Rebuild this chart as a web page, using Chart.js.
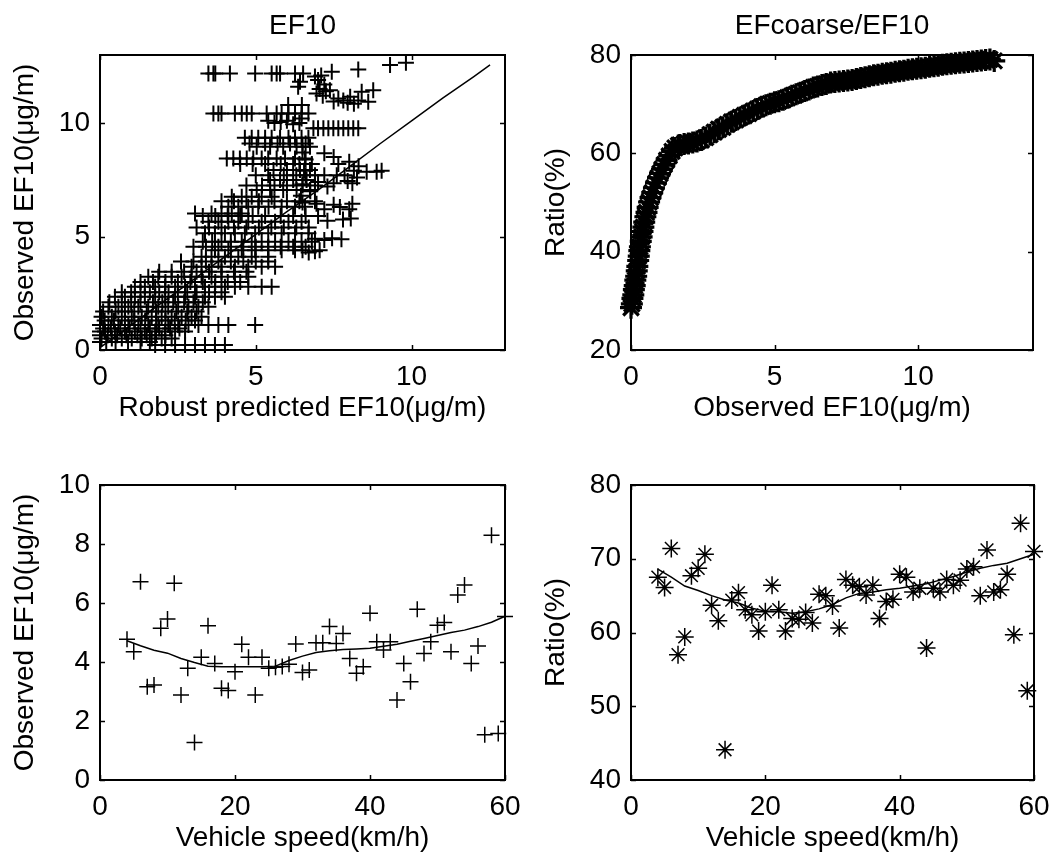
<!DOCTYPE html>
<html>
<head>
<meta charset="utf-8">
<title>EF10 and EFcoarse/EF10</title>
<script src="https://cdn.jsdelivr.net/npm/chart.js@4/dist/chart.umd.min.js"></script>
<style>
  html, body { margin: 0; padding: 0; background: #fff; }
  #page { position: relative; width: 1051px; height: 859px; overflow: hidden; }
  canvas { position: absolute; }
</style>
</head>
<body>
<div id="page">
  <canvas id="ef10-fit" width="525" height="430" style="left:0;top:0"></canvas>
  <canvas id="ratio-ef10" width="526" height="430" style="left:525px;top:0"></canvas>
  <canvas id="ef10-speed" width="525" height="429" style="left:0;top:430px"></canvas>
  <canvas id="ratio-speed" width="526" height="429" style="left:525px;top:430px"></canvas>
</div>
<script>
// ---- top left: observed vs robust predicted EF10 (values come in rows of equal observed EF10)
const observedLevels = [12.19, 10.42, 9.77, 9.35, 9.1, 8.96, 8.44, 8.2, 7.93, 7.7, 7.49, 7.25, 7.05, 6.75, 6.55,
  6.31, 6.02, 5.9, 5.65, 5.4, 5.14, 4.77, 4.55, 4.40, 4.11, 3.9, 3.67, 3.45, 3.23, 3.0, 2.79, 2.55, 2.35,
  2.1, 1.91, 1.7, 1.47, 1.3, 1.10, 0.95, 0.81, 0.65, 0.51, 0.35, 0.22];
const predictedAtLevel = [
  [3.48, 3.64, 3.7, 4.17, 4.98, 5.51, 5.67, 5.78, 6.26, 6.52],
  [3.64, 3.8, 3.9, 4.33, 4.55, 4.71, 4.87, 5.35, 5.67, 5.83, 6.05, 6.26, 6.47, 6.69],
  [6.85, 7.0, 7.17, 7.33, 7.49, 7.65, 7.81, 7.97, 8.13, 8.29],
  [4.65, 4.87, 5.08, 5.3, 5.51, 5.78, 6.05, 6.26, 6.47, 6.69],
  [4.8, 5.3, 5.7, 6.1, 6.6],
  [5.03, 5.46, 5.88, 6.31, 6.5, 6.74],
  [4.07, 4.28, 4.49, 4.71, 4.92, 5.19, 5.4, 5.67, 5.94, 6.26, 6.58],
  [4.5, 4.9, 5.3, 5.8, 6.2, 6.4],
  [5.57, 6.0, 6.42, 6.74],
  [5.0, 5.4, 5.9, 6.3, 6.6, 7.2, 7.6],
  [5.46, 5.78, 6.2, 6.63],
  [4.7, 5.2, 5.6, 6.0, 6.5, 6.9],
  [5.03, 5.46, 5.88, 6.31, 6.74],
  [4.23, 4.55, 4.87, 5.19, 5.51],
  [3.9, 4.3, 4.7, 5.1, 5.6, 6.0, 6.4, 6.9],
  [4.12, 4.44, 4.76, 5.08, 5.41, 5.83, 6.26, 6.58],
  [3.05, 3.58, 3.9, 4.23, 4.55],
  [3.3, 3.7, 4.1, 4.5, 4.9, 5.3, 5.8, 6.2, 6.6, 7.0],
  [3.48, 3.8, 4.12, 4.44, 4.76, 5.19, 5.62, 6.05, 6.47],
  [3.1, 3.5, 3.9, 4.3, 4.7, 5.1, 5.5, 5.9, 6.3, 6.7],
  [3.37, 3.69, 4.01, 4.33, 4.65, 4.98, 5.4, 5.83, 6.26, 6.69],
  [3.3, 3.6, 3.9, 4.2, 4.55, 4.87, 5.19, 5.62, 6.05, 6.47, 6.8],
  [3.0, 3.4, 3.8, 4.2, 4.6, 5.0, 5.4, 5.8, 6.2, 6.6],
  [3.69, 4.12, 4.55, 4.98, 5.4, 5.83, 6.26, 6.5, 7.05],
  [3.26, 3.58, 4.01, 4.44, 4.87, 5.4],
  [2.6, 3.0, 3.4, 3.8, 4.2, 4.6, 5.0, 5.4],
  [2.94, 3.26, 3.58, 3.9, 4.33, 4.76, 5.19, 5.62],
  [1.9, 2.3, 2.7, 3.1, 3.5, 3.9, 4.3, 4.7],
  [1.55, 1.87, 2.3, 2.62, 2.94, 3.26, 3.58, 3.9, 4.33, 4.76],
  [1.3, 1.7, 2.1, 2.5, 2.9, 3.3, 3.7, 4.1, 4.5],
  [1.12, 1.44, 1.77, 2.09, 2.41, 2.73, 3.05, 3.37, 3.69, 4.01, 4.33, 4.76, 5.19, 5.51],
  [0.7, 1.0, 1.3, 1.6, 1.9, 2.2, 2.5, 2.8, 3.1, 3.5, 3.9],
  [0.48, 0.8, 1.12, 1.44, 1.77, 2.09, 2.41, 2.73, 3.05, 3.37, 3.69, 4.01],
  [0.3, 0.7, 1.0, 1.3, 1.7, 2.0, 2.35, 2.7, 3.0, 3.3],
  [0.27, 0.59, 0.91, 1.23, 1.55, 1.87, 2.19, 2.51, 2.84, 3.16, 3.48],
  [0.1, 0.5, 0.8, 1.1, 1.5, 1.8, 2.1, 2.45, 2.8, 3.1],
  [0.05, 0.38, 0.7, 1.02, 1.34, 1.66, 1.98, 2.3, 2.62, 2.94, 3.26],
  [0.15, 0.45, 0.8, 1.1, 1.45, 1.8, 2.1, 2.4, 2.75, 3.05],
  [0, 0.27, 0.59, 0.91, 1.23, 1.55, 1.87, 2.19, 2.51, 2.84, 3.16, 3.48, 3.8, 4.12, 4.98],
  [0.1, 0.35, 0.65, 0.95, 1.3, 1.6, 1.9, 2.25, 2.55],
  [0, 0.16, 0.48, 0.8, 1.12, 1.44, 1.77, 2.09, 2.41, 2.73],
  [0, 0.25, 0.55, 0.85, 1.2, 1.5, 1.8, 2.1],
  [0.05, 0.38, 0.7, 1.02, 1.34, 1.66, 1.98, 2.3],
  [0, 0.2, 0.5, 0.9, 1.3, 1.6],
  [1.77, 2.09, 2.41, 2.73, 3.05, 3.37, 3.69, 4.01]
];
// scattered [predicted, observed] pairs outside the rows
const ef10Scattered = [
  [9.31, 12.56], [9.82, 12.66], [8.29, 12.36], [7.44, 12.26],
  [6.9, 12.05], [7.0, 11.9], [7.1, 12.1], [7.2, 11.7], [7.05, 11.5], [6.95, 11.3], [7.25, 11.4], [7.15, 11.2],
  [6.42, 11.82], [6.36, 11.6],
  [7.38, 11.45], [7.65, 11.08], [7.81, 11.0], [8.03, 11.16], [8.29, 11.0], [8.4, 11.38], [8.61, 10.94],
  [8.77, 11.45], [7.5, 10.95], [7.95, 10.9], [8.15, 10.85],
  [6.04, 10.8], [6.48, 10.8], [6.47, 10.2],
  [5.4, 10.1], [5.6, 10.0], [5.8, 10.05], [6.0, 10.1], [6.2, 9.95], [6.4, 10.0],
  [6.5, 8.7], [6.6, 8.4], [6.8, 8.2], [6.55, 7.9], [6.9, 7.7], [7.0, 7.4], [6.5, 7.3], [6.75, 7.0], [6.45, 6.8],
  [7.2, 8.67], [7.5, 8.5], [7.65, 8.2], [8.0, 8.3], [8.15, 7.9], [8.25, 7.6], [8.1, 7.35], [7.85, 7.7],
  [7.5, 7.35], [7.3, 7.2], [8.3, 8.1], [7.95, 7.45],
  [8.56, 7.86], [8.88, 7.86], [9.04, 7.9],
  [6.5, 6.5], [6.95, 6.45], [7.2, 6.2], [7.5, 6.4], [7.7, 6.3], [8.0, 6.2], [8.1, 6.45], [7.3, 5.7],
  [7.8, 5.75], [8.05, 5.8],
  [6.9, 4.9], [7.2, 4.85], [7.45, 4.92], [7.75, 4.88], [6.7, 4.3], [6.9, 4.35]
];
const ef10FitPredicted = [0, 1, 2, 3, 4, 5, 6, 7, 8, 9, 10, 11, 12, 12.52];
const ef10FitObserved = [0.1, 1.1, 2.1, 3.1, 4.1, 5.1, 6.1, 7.05, 8.07, 9.1, 10.1, 11.1, 12.05, 12.56];

// ---- top right: EFcoarse/EF10 ratio (%) against observed EF10
const bandEf10 = [0.00, 0.03, 0.05, 0.08, 0.10, 0.13, 0.15, 0.18, 0.20, 0.22, 0.25, 0.27, 0.29, 0.31, 0.34,
  0.37, 0.40, 0.43, 0.46, 0.50, 0.54, 0.58, 0.63, 0.68, 0.74, 0.80, 0.87, 0.94, 1.01, 1.08, 1.16, 1.24,
  1.33, 1.43, 1.53, 1.65,
  1.70, 1.85, 2.00, 2.15, 2.30, 2.45, 2.60, 2.75, 2.90, 3.05, 3.20, 3.35, 3.50, 3.65, 3.80, 3.95, 4.10,
  4.25, 4.40, 4.55, 4.70, 4.85, 5.00, 5.15, 5.30, 5.45, 5.60, 5.75, 5.90, 6.05, 6.20, 6.35, 6.50, 6.65,
  6.80, 6.95, 7.10, 7.25, 7.40, 7.55, 7.70, 7.85, 8.00, 8.15, 8.30, 8.45, 8.60, 8.75, 8.90, 9.05, 9.20,
  9.35, 9.50, 9.65, 9.80, 9.95, 10.10, 10.25, 10.40, 10.55, 10.70, 10.85, 11.00, 11.15, 11.30, 11.45,
  11.60, 11.75, 11.90, 12.05, 12.20, 12.35, 12.50, 12.65];
const bandRatio = [28.6, 29.4, 30.5, 31.2, 32.3, 33.1, 34.2, 35.0, 36.1, 37.0, 38.2, 39.1, 40.2, 41.0, 42.1,
  43.0, 44.1, 45.0, 46.0, 47.1, 48.0, 49.0, 50.1, 51.0, 52.0, 53.0, 54.0, 55.0, 55.9, 56.8, 57.7, 58.6,
  59.5, 60.4, 61.1, 61.6,
  61.7, 61.9, 62.0, 62.2, 62.4, 62.7, 63.2, 63.8, 64.3, 64.9, 65.3, 65.9, 66.4, 66.8, 67.3, 67.7, 68.1,
  68.6, 69.0, 69.5, 69.8, 70.1, 70.4, 70.6, 70.9, 71.3, 71.7, 72.0, 72.3, 72.7, 73.0, 73.4, 73.6, 73.9,
  74.1, 74.4, 74.5, 74.6, 74.7, 74.8, 74.9, 75.1, 75.3, 75.5, 75.7, 75.9, 76.0, 76.2, 76.3, 76.4, 76.6,
  76.7, 76.8, 77.0, 77.1, 77.2, 77.3, 77.4, 77.6, 77.7, 77.8, 78.0, 78.1, 78.2, 78.3, 78.4,
  78.5, 78.6, 78.7, 78.8, 78.9, 79.0, 79.1, 78.8];

// ---- bottom row: per vehicle speed (km/h)
const speeds = [4, 5, 6, 7, 8, 9, 10, 11, 12, 13, 14, 15, 16, 17, 18, 19, 20, 21, 22, 23, 24, 25, 26, 27, 28,
  29, 30, 31, 32, 33, 34, 35, 36, 37, 38, 39, 40, 41, 42, 43, 44, 45, 46, 47, 48, 49, 50, 51, 52, 53, 54,
  55, 56, 57, 58, 59, 60];
const ef10BySpeed = [
  4.77, 4.35, 6.72, 3.16, 3.22, 5.14, 5.46, 6.67, 2.88, 3.79,
  1.27, 4.16, 5.23, 3.95, 3.11, 3.03, 3.67, 4.60, 4.16, 2.88,
  4.16, 3.79, 3.82, 3.85, 3.92, 4.61, 3.64, 3.73, 4.65, 4.65,
  5.20, 4.63, 4.97, 4.12, 3.62, 3.84, 5.65, 4.69, 4.41, 4.69,
  2.71, 3.95, 3.33, 5.79, 4.29, 4.69, 5.25, 5.34, 4.35, 6.27,
  6.61, 3.95, 4.54, 1.53, 8.30, 1.58, 5.54];
const ratioBySpeed = [
  67.5, 66.1, 71.4, 57.0, 59.4, 67.7, 68.7, 70.6, 63.7, 61.6,
  44.1, 64.4, 65.4, 63.1, 62.4, 60.2, 62.8, 66.4, 63.1, 60.2,
  61.9, 61.8, 62.7, 61.3, 65.2, 65.0, 63.6, 60.6, 67.2, 66.4,
  66.2, 65.1, 66.4, 61.9, 64.2, 64.5, 67.9, 67.5, 65.5, 66.0,
  57.9, 66.0, 65.5, 67.2, 66.4, 67.1, 68.6, 68.9, 65.0, 71.2,
  65.5, 65.8, 67.9, 59.7, 74.8, 52.1, 71.0];
const fitSpeeds = [4, 6, 8, 10, 12, 14, 16, 18, 20, 22, 24, 26, 28, 30, 32, 34, 36, 38, 40, 42, 44, 46, 48, 50,
  52, 54, 56, 58, 60];
const ef10SpeedFit = [4.72, 4.55, 4.4, 4.3, 4.12, 3.98, 3.86, 3.84, 3.84, 3.84, 3.84, 3.86, 4.05, 4.2, 4.32,
  4.38, 4.42, 4.44, 4.47, 4.53, 4.6, 4.7, 4.8, 4.9, 5.0, 5.08, 5.2, 5.35, 5.55];
const ratioSpeedFit = [68.6, 67.5, 66.3, 65.7, 65.0, 64.4, 64.0, 63.3, 62.9, 62.8, 62.6, 62.8, 63.2, 63.8, 64.7,
  65.3, 65.5, 65.8, 66.0, 66.3, 66.6, 67.1, 67.6, 68.2, 68.7, 69.1, 69.4, 70.0, 70.6];

const FONT = { family: 'Arial, "Liberation Sans", Helvetica, sans-serif', size: 28, lineHeight: 1 };
Chart.defaults.color = '#000';
Chart.defaults.font.family = FONT.family;

// MATLAB-like box with inward ticks on all four sides
const boxFrame = {
  id: 'boxFrame',
  afterDatasetsDraw(chart) {
    const { ctx, chartArea: a, scales: { x, y } } = chart;
    ctx.save();
    ctx.strokeStyle = '#000';
    ctx.lineWidth = 1.5;
    ctx.beginPath();
    x.ticks.forEach(t => {
      const px = Math.round(x.getPixelForValue(t.value)) + 0.5;
      ctx.moveTo(px, a.bottom); ctx.lineTo(px, a.bottom - 5);
      ctx.moveTo(px, a.top); ctx.lineTo(px, a.top + 5);
    });
    y.ticks.forEach(t => {
      const py = Math.round(y.getPixelForValue(t.value)) + 0.5;
      ctx.moveTo(a.left, py); ctx.lineTo(a.left + 5, py);
      ctx.moveTo(a.right, py); ctx.lineTo(a.right - 5, py);
    });
    ctx.stroke();
    ctx.lineWidth = 2;
    ctx.strokeRect(a.left, a.top, a.right - a.left, a.bottom - a.top);
    ctx.restore();
  }
};

function toPoints(xs, ys) {
  return xs.map((v, i) => ({ x: v, y: ys[i] }));
}

function markers(data, style, radius, width) {
  return {
    data: data,
    pointStyle: style,
    pointRadius: radius,
    pointBorderWidth: width,
    borderColor: '#000',
    backgroundColor: '#000',
    showLine: false,
    clip: false
  };
}

function fitLine(data) {
  return {
    data: data,
    showLine: true,
    borderColor: '#000',
    borderWidth: 1.5,
    pointRadius: 0,
    fill: false,
    tension: 0,
    clip: false
  };
}

// label overhang must not shrink the plot box, positions are fixed below
function noOverhang(s) {
  s.paddingLeft = 0; s.paddingRight = 0; s.paddingTop = 0; s.paddingBottom = 0;
}

function drawPanel(id, p) {
  const o = p.origin, b = p.box;
  const yWidth = b.left - o.left;
  const topSpace = b.top - o.top;
  new Chart(document.getElementById(id), {
    type: 'scatter',
    data: { datasets: p.datasets },
    options: {
      responsive: false,
      animation: false,
      devicePixelRatio: 1,
      events: [],
      layout: {
        padding: {
          left: 0,
          right: o.width - (b.right - o.left),
          top: p.title ? 0 : topSpace,
          bottom: o.height - (b.bottom - o.top) - 72
        }
      },
      plugins: {
        legend: { display: false },
        tooltip: { enabled: false },
        title: {
          display: !!p.title,
          text: p.title || '',
          fullSize: false,
          color: '#000',
          font: { ...FONT, weight: 'normal' },
          padding: { top: 12, bottom: topSpace - 12 - FONT.size }
        }
      },
      scales: {
        x: {
          type: 'linear',
          min: p.x[0], max: p.x[1],
          grid: { display: false, drawTicks: false },
          border: { display: false },
          ticks: { stepSize: p.x[2], includeBounds: false, padding: 13, maxRotation: 0, autoSkip: false, font: FONT, color: '#000' },
          title: { display: true, text: p.xTitle, font: FONT, color: '#000', padding: { top: 0, bottom: 0 } },
          afterFit: s => { s.height = 72; noOverhang(s); }
        },
        y: {
          type: 'linear',
          min: p.y[0], max: p.y[1],
          grid: { display: false, drawTicks: false },
          border: { display: false },
          ticks: { stepSize: p.y[2], includeBounds: false, padding: 10, autoSkip: false, font: FONT, color: '#000' },
          title: { display: true, text: p.yTitle, font: FONT, color: '#000', padding: { top: p.yTitleX - o.left - FONT.size / 2, bottom: 0 } },
          afterFit: s => { s.width = yWidth; noOverhang(s); }
        }
      }
    },
    plugins: [boxFrame]
  });
}

const ef10Points = observedLevels.flatMap((lvl, i) => predictedAtLevel[i].map(v => ({ x: v, y: lvl })))
  .concat(ef10Scattered.map(([px, oy]) => ({ x: px, y: oy })));

drawPanel('ef10-fit', {
  origin: { left: 0, top: 0, width: 525, height: 430 },
  box: { left: 100, top: 55, right: 505, bottom: 350 },
  yTitleX: 25,
  title: 'EF10',
  xTitle: 'Robust predicted EF10(\u03bcg/m)',
  yTitle: 'Observed EF10(\u03bcg/m)',
  x: [0, 13, 5], y: [0, 13, 5],
  datasets: [fitLine(toPoints(ef10FitPredicted, ef10FitObserved)), markers(ef10Points, 'cross', 8, 2)]
});

drawPanel('ratio-ef10', {
  origin: { left: 525, top: 0, width: 526, height: 430 },
  box: { left: 631, top: 55, right: 1033, bottom: 350 },
  yTitleX: 556,
  title: 'EFcoarse/EF10',
  xTitle: 'Observed EF10(\u03bcg/m)',
  yTitle: 'Ratio(%)',
  x: [0, 14, 5], y: [20, 80, 20],
  datasets: [markers(toPoints(bandEf10, bandRatio), 'star', 11, 3.2)]
});

drawPanel('ef10-speed', {
  origin: { left: 0, top: 430, width: 525, height: 429 },
  box: { left: 100, top: 485, right: 505, bottom: 780 },
  yTitleX: 25,
  xTitle: 'Vehicle speed(km/h)',
  yTitle: 'Observed EF10(\u03bcg/m)',
  x: [0, 60, 20], y: [0, 10, 2],
  datasets: [markers(toPoints(speeds, ef10BySpeed), 'cross', 8, 1.5), fitLine(toPoints(fitSpeeds, ef10SpeedFit))]
});

drawPanel('ratio-speed', {
  origin: { left: 525, top: 430, width: 526, height: 429 },
  box: { left: 631, top: 485, right: 1034, bottom: 780 },
  yTitleX: 556,
  xTitle: 'Vehicle speed(km/h)',
  yTitle: 'Ratio(%)',
  x: [0, 60, 20], y: [40, 80, 10],
  datasets: [markers(toPoints(speeds, ratioBySpeed), 'star', 9, 1.5), fitLine(toPoints(fitSpeeds, ratioSpeedFit))]
});
</script>
</body>
</html>
